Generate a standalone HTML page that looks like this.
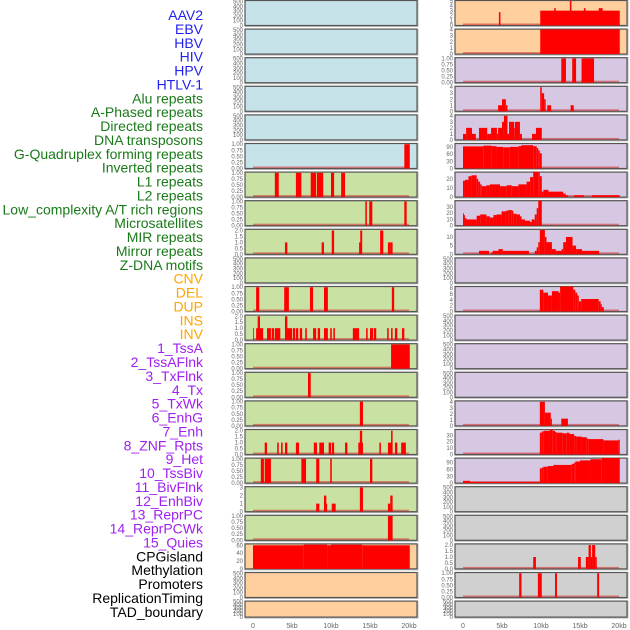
<!DOCTYPE html>
<html><head><meta charset="utf-8"><style>
html,body{margin:0;padding:0;background:#fff;width:630px;height:630px;overflow:hidden}
svg{display:block}
.lab{font-family:"Liberation Sans",sans-serif;font-size:14px;text-anchor:end}
.tk{font-family:"Liberation Sans",sans-serif;font-size:6px;fill:#666;text-anchor:end}
.xt{font-family:"Liberation Sans",sans-serif;font-size:7px;fill:#666;text-anchor:middle}
</style></head><body>
<svg id="chart" width="630" height="630" xmlns="http://www.w3.org/2000/svg"></svg>
<script>
// ---- data ----
const labels = ["AAV2","EBV","HBV","HIV","HPV","HTLV-1","Alu repeats","A-Phased repeats","Directed repeats","DNA transposons","G-Quadruplex forming repeats","Inverted repeats","L1 repeats","L2 repeats","Low_complexity A/T rich regions","Microsatellites","MIR repeats","Mirror repeats","Z-DNA motifs","CNV","DEL","DUP","INS","INV","1_TssA","2_TssAFlnk","3_TxFlnk","4_Tx","5_TxWk","6_EnhG","7_Enh","8_ZNF_Rpts","9_Het","10_TssBiv","11_BivFlnk","12_EnhBiv","13_ReprPC","14_ReprPCWk","15_Quies","CPGisland","Methylation","Promoters","ReplicationTiming","TAD_boundary"];
const labelColors = ["#2222ee","#1a7a1a","#ffa500","#a020f0","#000000"];
const labelGroups = [0,0,0,0,0,0,1,1,1,1,1,1,1,1,1,1,1,1,1,2,2,2,2,2,3,3,3,3,3,3,3,3,3,3,3,3,3,3,3,4,4,4,4,4];
const leftBg = ["b","b","b","b","b","b","g","g","g","g","g","g","g","g","g","g","g","g","g","o","o","o"];
const rightBg = ["o","o","p","p","p","p","p","p","p","p","p","p","p","p","p","p","p","x","x","x","x","x"];
const xTicks = [0,5,10,15,20];
const xTickLabels = ["0","5kb","10kb","15kb","20kb"];
// y axis types: E empty(0-500), U unit(0-1), T two(0-2), R three, etc.
const leftYmax = [520,520,520,520,520,1.03,1.03,1.03,2.1,520,1.03,2.1,1.03,1.03,1.03,2.1,1.03,3.1,1.03,63.5,520,520];
const leftTicks = ["E","E","E","E","E","U","U","U","T","E","U","T","U","U","U","T","U","R","U","C","E","E"];
const rightYmax = [5.05,4.05,1.03,4.15,4.15,104,27.5,40,14.4,520,8.6,520,520,520,4.15,39,110,520,520,2.1,1.03,520];
const rightTicks = ["F","Q","U","Q","Q","N","W","X","K","E","G","E","E","E","Q","X","N","E","E","T","U","E"];
const tickSets = {E:[0,100,200,300,400,500],U:[0,0.25,0.5,0.75,1],T:[0,0.5,1,1.5,2],R:[0,1,2,3],C:[0,20,40,60],F:[0,1,2,3,4,5],Q:[0,1,2,3,4],N:[0,30,60,90],W:[0,10,20],X:[0,10,20,30],K:[0,5,10],G:[0,2,4,6,8]};
// segments [startKb,endKb,value]
const L5 = [[19.4,20.1,1]];
const L6 = [[2.8,3.3,1],[5.5,6.2,1],[7.4,8.1,1],[8.2,9.0,1],[10.0,10.4,1],[11.3,11.8,1]];
const L7 = [[14.4,14.6,1],[14.9,15.3,1],[19.4,19.7,1]];
const L8 = [[4.1,4.4,1],[8.8,9.1,1],[10.1,10.4,2],[13.6,13.8,1],[13.75,14.0,2],[16.3,16.7,2],[17.3,17.6,1],[17.6,17.9,1]];
const L10 = [[0.4,0.8,1],[4.0,4.6,1],[7.3,7.7,1],[9.1,9.6,1],[17.8,18.1,1]];
const L11 = [[0,0.1,1],[0.4,1.3,1],[0.6,0.9,2],[1.8,2.3,1],[2.4,2.7,1],[2.8,3.5,1],[4.1,5.0,1],[4.1,4.4,2],[5.1,5.4,1],[5.5,5.8,1],[6.0,6.3,1],[6.7,6.9,1],[7.7,8.1,1],[8.3,8.6,1],[9.1,9.6,1],[9.9,10.1,1],[10.3,10.5,1],[12.8,13.6,1],[14.5,14.7,1],[15.0,15.4,1],[15.5,15.8,1],[17.2,17.4,1],[17.7,17.9,1],[18.2,18.5,1],[19.1,19.4,1]];
const L12 = [[17.7,20.1,1]];
const L13 = [[7.05,7.4,1]];
const L14 = [[13.7,14.1,1]];
const L15 = [[1.5,1.8,1],[3.1,3.3,1],[3.6,3.8,1],[4.1,4.4,1],[5.5,5.9,1],[7.8,8.2,1],[8.5,9.1,1],[9.7,10.0,1],[10.1,10.4,1],[11.8,12.1,1],[13.5,14.1,1],[13.7,14.0,2],[16.2,16.4,1],[17.3,17.8,1],[17.7,17.9,2],[18.2,18.5,1],[19.0,19.6,1]];
const L16 = [[1.0,1.4,1],[1.5,2.3,1],[6.2,6.8,1],[8.1,8.5,1],[9.9,10.1,1],[15.0,15.3,1]];
const L17 = [[8.1,8.5,1],[9.1,9.4,2],[9.25,9.5,1],[10.1,10.6,1],[13.7,14.1,3],[17.3,17.6,1],[17.6,17.9,2]];
const L18 = [[17.3,17.9,1]];
const L19 = [[0,6.5,60],[6.5,9.5,61.5],[9.5,10,60],[10,14,61.5],[14,20.1,60]];
const R0 = [[4.6,4.8,2.7],[9.9,20.1,3],[11.7,11.9,3.5],[13.7,13.9,5],[15.5,15.7,3.5],[17.4,17.9,3.5]];
const R1 = [[9.9,20.1,4]];
const R2 = [[12.6,13.2,1],[14.0,14.5,1],[15.2,16.8,1]];
const R3 = [[4.5,5.0,1],[5.0,5.5,2],[5.5,5.7,1],[9.9,10.1,4],[10.1,10.4,3],[10.4,10.6,2],[10.8,11.3,1],[13.8,14.2,1]];
const R4 = [[0,0.4,1],[0.4,1.15,2],[1.15,1.65,1],[2.05,3.1,2],[3.1,3.6,1],[3.6,4.35,2],[4.35,4.5,1],[4.5,5.0,2],[5.0,5.25,3],[5.25,5.7,4],[5.7,5.9,1],[5.9,6.55,3],[6.55,6.65,2],[6.65,7.3,3],[7.3,7.55,1],[8.85,9.35,1],[9.35,10.1,2]];
const R5 = [[0,2.6,92],[2.6,3.7,95],[3.7,4.3,93],[4.3,5.15,90],[5.15,6.0,88],[6.0,7.1,90],[7.1,7.5,93],[7.5,9.0,97],[9.0,9.45,93],[9.45,9.65,85],[9.65,9.85,75],[9.85,10.1,63]];
const R6 = [[0,0.25,18],[0.25,0.7,19],[0.7,1.1,23],[1.1,1.75,24],[1.75,1.95,20],[1.95,2.2,17],[2.2,2.4,14],[2.4,3.0,12],[3.0,3.45,13],[3.45,4.75,14],[4.75,5.6,12],[5.6,6.25,13],[6.25,7.1,12],[7.1,8.15,14],[8.15,8.6,17],[8.6,9.0,22],[9.0,9.65,28],[9.65,9.85,27],[9.85,10.1,23],[10.1,10.3,6],[10.3,10.95,8],[10.95,12.85,6],[12.85,13.15,4],[13.15,13.45,2],[14.25,15.5,2],[16.55,20.1,2]];
const R7 = [[0,0.05,20],[0.05,0.25,17],[0.25,0.45,12],[0.45,1.75,10],[1.75,2.2,16],[2.2,3.0,18],[3.0,3.45,15],[3.45,3.9,13],[3.9,4.3,17],[4.3,4.95,18],[4.95,5.5,23],[5.5,5.8,24],[5.8,6.25,25],[6.25,6.45,24],[6.45,6.9,19],[6.9,7.3,18],[7.3,7.5,15],[7.5,7.95,10],[7.95,8.6,8],[8.6,8.8,6],[8.8,9.2,10],[9.2,9.45,18],[9.45,9.65,28],[9.65,10.1,40]];
const R8 = [[2.05,3.35,2],[3.6,3.8,1],[3.8,4.55,2],[4.55,5.1,3],[5.1,8.45,2],[9.2,9.45,2],[9.45,9.65,4],[9.65,9.85,7],[9.85,10.5,14],[10.5,10.7,10],[10.7,11.4,7],[11.4,11.9,3],[11.9,12.65,2],[12.65,12.85,3],[12.85,13.2,7],[13.2,14.05,10],[14.05,14.5,5],[14.5,15.25,3],[15.25,17.45,2]];
const R10 = [[9.85,10.3,7.5],[10.3,10.9,6.5],[10.9,11.4,5.5],[11.4,12.25,7],[12.25,12.45,6.5],[12.45,14.15,8.6],[14.15,14.4,7.5],[14.4,14.65,6.5],[14.65,14.85,5.5],[14.85,15.15,3.5],[15.15,17.4,4.3],[17.4,17.65,3.5],[17.65,17.8,2.5],[17.8,18.05,1.5]];
const R14 = [[9.85,10.5,4],[10.5,11.25,2.2],[11.25,11.4,1.2],[12.6,13.45,1.2]];
const R15 = [[9.85,10.1,34],[10.1,10.35,36],[10.35,11.15,37],[11.15,11.5,39],[11.5,11.8,37],[11.8,12.0,35],[12.0,12.8,34],[12.8,13.3,33],[13.3,13.65,34],[13.65,14.25,32],[14.25,14.5,29],[14.5,15.2,28],[15.2,15.85,27],[15.85,16.05,25],[16.05,18.0,24],[18.0,19.9,22],[19.9,20.1,23]];
const R16 = [[0,0.9,10],[0.9,9.85,5],[9.85,10.1,65],[10.1,10.3,68],[10.3,10.85,72],[10.85,11.6,75],[11.6,13.95,80],[13.95,14.25,85],[14.25,14.4,90],[14.4,15.0,95],[15.0,16.35,100],[16.35,17.8,105],[17.8,20.1,110]];
const R19 = [[9.0,9.35,1],[14.75,15.1,1],[15.75,16.1,1],[16.1,16.4,2],[16.4,16.55,1],[16.55,16.95,2],[16.95,17.15,1]];
const R20 = [[7.2,7.5,1],[9.6,10.1,1],[11.8,12.05,1],[17.2,17.45,1]];
const leftData = [null,null,null,null,null,L5,L6,L7,L8,null,L10,L11,L12,L13,L14,L15,L16,L17,L18,L19,null,null];
const rightData = [R0,R1,R2,R3,R4,R5,R6,R7,R8,null,R10,null,null,null,R14,R15,R16,null,null,R19,R20,null];

// ---- drawing ----
const NS = "http://www.w3.org/2000/svg";
const svg = document.getElementById("chart");
const bgColors = {b:"#c6e3ea",g:"#c9e1a3",o:"#ffcf9e",p:"#d6c8e3",x:"#d0d0d0"};
function mk(tag, attrs, parent){const e=document.createElementNS(NS,tag);for(const k in attrs)e.setAttribute(k,attrs[k]);(parent||svg).appendChild(e);return e;}
const PITCH = 28.6;
function rowTop(i){return i*PITCH+0.5;}
function rowH(i){return i===21?16:25;}
function fmt(v,set){if(set==="U")return v.toFixed(2);if(set==="T")return v.toFixed(1);return String(v);}

labels.forEach((t,i)=>{
  const e=mk("text",{x:203,y:20+i*13.88,class:"lab",fill:labelColors[labelGroups[i]]});
  e.textContent=t;
  
  
});

function drawPanel(side,i,bgKey,ymax,tickKey,data){
  const px = side==="L"?245:455, pw=172;
  const x0 = px+8, kbw = 7.8;
  const top=rowTop(i), h=rowH(i), bottom=top+h;
  const g=mk("g",{});
  
  
  mk("rect",{x:px-0.5,y:top-0.5,width:pw+2,height:h+2,fill:"#bbb"},g);
  mk("rect",{x:px,y:top,width:pw,height:h,fill:bgColors[bgKey],stroke:"#555","stroke-width":1.2},g);
  const ys=v=>bottom-(v/ymax)*h;
  const xs=kb=>x0+kb*kbw;
  if(data){
    mk("rect",{x:xs(0),y:bottom-2,width:xs(20)-xs(0),height:1.6,fill:"rgba(210,40,40,0.55)"},g);
    data.forEach((d,j)=>{
      const r=mk("rect",{x:xs(d[0]),y:ys(d[2]),width:Math.max(0.8,xs(d[1])-xs(d[0])),height:bottom-ys(d[2]),fill:"#ff0000"},g);
      
      
    });
  }
  const ts=tickSets[tickKey], tx=px-2;
  ts.forEach(v=>{
    const t=mk("text",{x:tx,y:ys(v)+2,class:"tk"},g);
    t.textContent=fmt(v,tickKey);
    
    
  });
}
for(let i=0;i<22;i++){
  drawPanel("L",i,leftBg[i],leftYmax[i],leftTicks[i],leftData[i]);
  drawPanel("R",i,rightBg[i],rightYmax[i],rightTicks[i],rightData[i]);
}
[253,463].forEach(x0=>{
  xTicks.forEach((k,j)=>{
    const t=mk("text",{x:x0+k*7.8,y:628,class:"xt"});
    t.textContent=xTickLabels[j];
    
    
  });
});
</script>
</body></html>
